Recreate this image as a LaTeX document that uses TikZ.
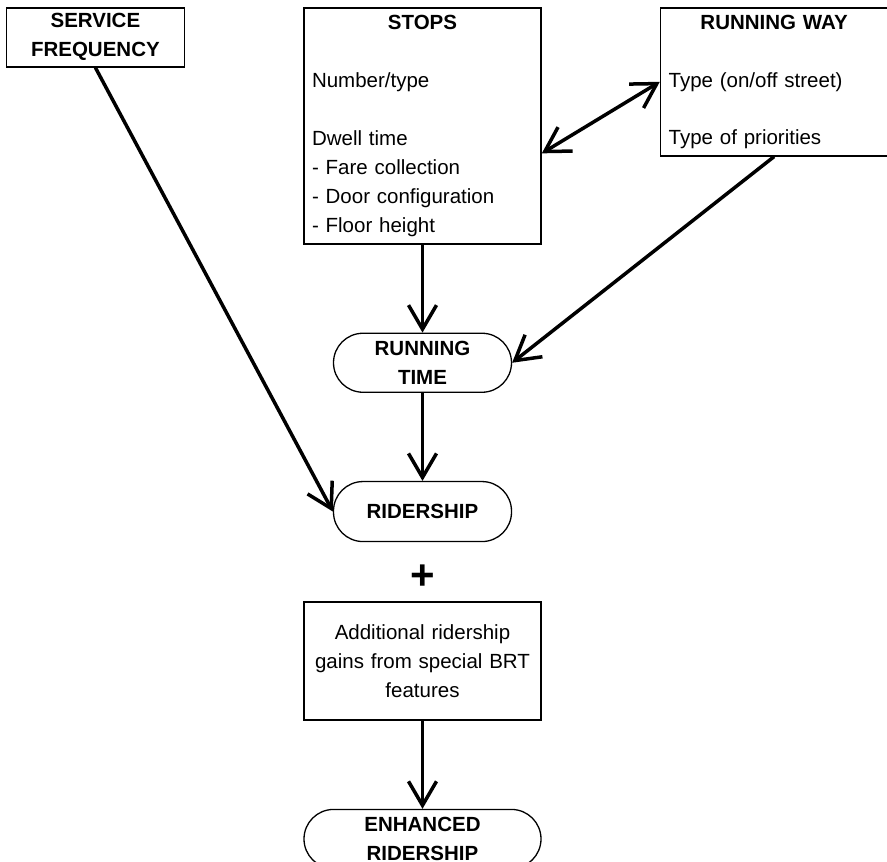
\documentclass[tikz,border=0pt]{standalone}
\usepackage{fontspec}
\setmainfont{Liberation Sans}
\usetikzlibrary{arrows.meta,positioning,calc}
\newcommand{\diagfont}{\fontsize{20.5}{29}\selectfont}
\tikzset{
  box/.style={draw, line width=1.6pt, inner xsep=8pt, inner ysep=5pt, font=\diagfont},
  headbox/.style={box, align=center, font=\diagfont\bfseries},
  listbox/.style={box, align=left},
  pill/.style={draw, line width=1.3pt, rounded corners=29.5pt, minimum height=59pt,
               align=center, inner sep=0pt, font=\diagfont\bfseries},
  flow/.style={-{Straight Barb[length=24pt,width=28pt]}, line width=3.5pt},
  twoway/.style={{Straight Barb[length=24pt,width=28pt]}-{Straight Barb[length=24pt,width=28pt]},
                 line width=3.5pt},
}
\begin{document}
\begin{tikzpicture}[x=1pt, y=-1pt, node distance=88pt]
\useasboundingbox (0,0) rectangle (887,862);
% top row
\node[listbox, text width=221pt, minimum height=236pt, anchor=north] (stops) at (422.5,7)
  {\hfill\textbf{STOPS}\hfill\null\\[29pt]
   Number/type\\[29pt]
   Dwell time\\
   - Fare collection\\
   - Door configuration\\
   - Floor height};
\node[headbox, minimum width=178pt, minimum height=59pt,
      left=118pt of stops.north west, anchor=north east] (freq) {SERVICE\\FREQUENCY};
\node[listbox, text width=211pt, minimum height=148pt,
      right=118pt of stops.north east, anchor=north west] (way)
  {\hfill\textbf{RUNNING WAY}\hfill\null\\[29pt]
   Type (on/off street)\\[28pt]
   Type of priorities};
% middle column
\node[pill, minimum width=178pt, below=of stops] (rtime) {RUNNING\\TIME};
\node[pill, minimum width=178pt, minimum height=60pt, below=of rtime] (rider) {RIDERSHIP};
\node[box, align=center, text width=221pt, minimum height=118pt, below=59pt of rider] (extra)
  {Additional ridership\\gains from special BRT\\features};
\node[font=\fontsize{42}{42}\selectfont\bfseries, inner sep=0pt]
  (plus) at ($(rider.south)!0.6!(extra.north)$) {+};
\node[pill, minimum width=237pt, below=of extra] (enh) {ENHANCED\\RIDERSHIP};
% connectors
\draw[flow] (freq.south) -- (rider.west);
\draw[flow] (stops) -- (rtime);
\draw[flow] (way.south) -- (rtime.east);
\draw[twoway] (stops.-13) -- (way.west);
\draw[flow] (rtime) -- (rider);
\draw[flow] (extra) -- (enh);
\end{tikzpicture}
\end{document}
